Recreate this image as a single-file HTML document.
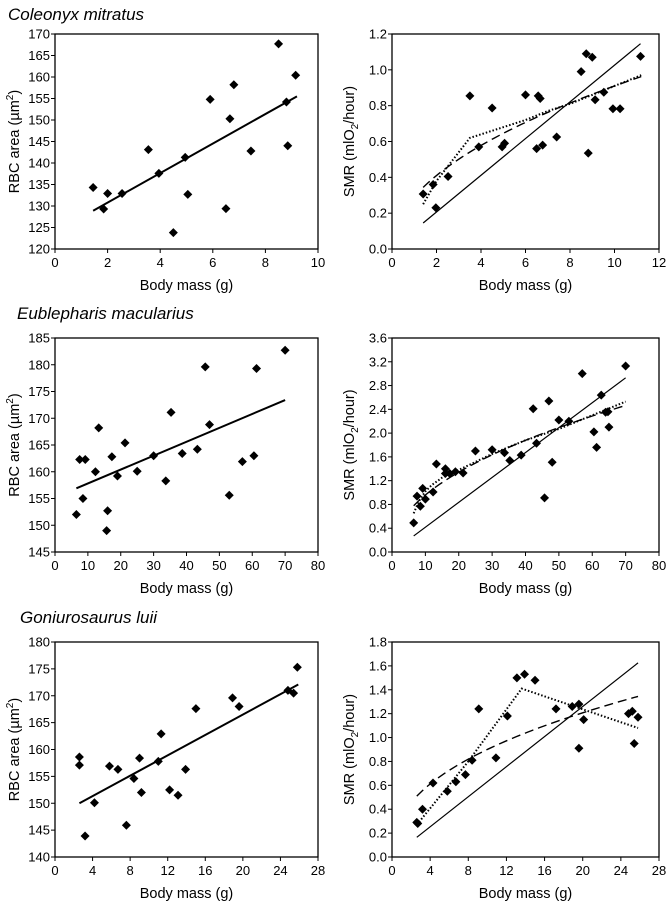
<!DOCTYPE html>
<html><head><meta charset="utf-8">
<style>
body{margin:0;background:#fff;}
svg{display:block;font-family:"Liberation Sans",Arial,sans-serif;}
</style></head>
<body>
<svg id="fig" width="668" height="905" viewBox="0 0 668 905">
<text x="8" y="20" font-size="17" font-style="italic">Coleonyx mitratus</text>
<text x="17" y="319" font-size="17" font-style="italic">Eublepharis macularius</text>
<text x="20" y="623" font-size="17" font-style="italic">Goniurosaurus luii</text>
</svg>
<script>
// ---- Panel 1: Coleonyx RBC ----
const p1X=[1.45,1.85,2.0,2.55,3.55,3.95,4.5,4.95,5.05,5.9,6.5,6.65,6.8,7.45,8.5,8.8,8.85,9.15];
const p1Y=[134.3,129.3,132.9,132.9,143.1,137.6,123.8,141.3,132.7,154.8,129.4,150.3,158.2,142.8,167.7,154.2,144.0,160.4];
const p1LineX=[1.45,9.2];
const p1LineY=[128.9,155.5];
const p1XTicks=[0,2,4,6,8,10];
const p1YTicks=[120,125,130,135,140,145,150,155,160,165,170];
// ---- Panel 2: Coleonyx SMR ----
const p2X=[1.4,1.85,1.97,2.52,3.5,3.9,4.5,4.95,5.06,6.0,6.5,6.57,6.66,6.77,7.4,8.5,8.73,9.0,8.82,9.13,9.52,9.93,10.25,11.17];
const p2Y=[0.307,0.36,0.23,0.405,0.855,0.57,0.787,0.57,0.59,0.86,0.56,0.855,0.84,0.58,0.625,0.99,1.09,1.07,0.535,0.833,0.875,0.783,0.783,1.075];
const p2LineX=[1.4,11.17];
const p2LineY=[0.145,1.146];
const p2Power=[0.291,0.495,1.4,11.2];
const p2DotX=[1.4,2,3.5,5,6,7,8,9,10,11.2];
const p2DotY=[0.25,0.38,0.62,0.68,0.72,0.77,0.81,0.86,0.91,0.97];
const p2XTicks=[0,2,4,6,8,10,12];
const p2YTicks=[0,0.2,0.4,0.6,0.8,1.0,1.2];
// ---- Panel 3: Eublepharis RBC ----
const p3X=[6.5,7.5,8.5,9.2,12.3,13.3,15.7,16,17.3,19,21.3,25,30,33.7,35.3,38.7,43.3,45.7,47,53,57,60.5,61.3,70];
const p3Y=[152,162.3,155,162.3,160,168.2,149,152.7,162.8,159.2,165.4,160.1,163,158.3,171.1,163.4,164.2,179.6,168.8,155.6,161.9,163,179.3,182.7];
const p3LineX=[6.5,70];
const p3LineY=[156.9,173.4];
const p3XTicks=[0,10,20,30,40,50,60,70,80];
const p3YTicks=[145,150,155,160,165,170,175,180,185];
// ---- Panel 4: Eublepharis SMR ----
const p4X=[6.5,7.5,8.5,9.2,10,12.3,13.3,16,16,17.3,19,21.3,25,30,33.7,35.3,38.7,42.3,43.3,45.7,47,48,50,53,57,60.5,61.3,62.7,64,64.7,65,70];
const p4Y=[0.49,0.94,0.77,1.07,0.89,1.01,1.48,1.4,1.32,1.32,1.35,1.33,1.7,1.72,1.67,1.54,1.63,2.41,1.83,0.91,2.54,1.51,2.22,2.2,3.0,2.02,1.76,2.64,2.35,2.36,2.1,3.13];
const p4LineX=[6.5,70];
const p4LineY=[0.27,2.93];
const p4Power=[0.314,0.485,6.5,70];
const p4DotX=[6.5,8,10,12,15,20,30,40,50,60,70];
const p4DotY=[0.65,0.85,1.02,1.13,1.25,1.38,1.65,1.88,2.07,2.3,2.53];
const p4XTicks=[0,10,20,30,40,50,60,70,80];
const p4YTicks=[0,0.4,0.8,1.2,1.6,2.0,2.4,2.8,3.2,3.6];
// ---- Panel 5: Goniurosaurus RBC ----
const p5X=[2.6,2.6,3.2,4.2,5.8,6.7,7.6,8.4,9.0,9.2,11,11.3,12.2,13.1,13.9,15,18.9,19.6,24.8,25.4,25.8];
const p5Y=[158.6,157.1,143.9,150.1,156.9,156.3,145.9,154.6,158.4,152,157.8,162.9,152.5,151.5,156.3,167.6,169.6,168,171,170.5,175.3];
const p5LineX=[2.6,25.9];
const p5LineY=[150,172.1];
const p5XTicks=[0,4,8,12,16,20,24,28];
const p5YTicks=[140,145,150,155,160,165,170,175,180];
// ---- Panel 6: Goniurosaurus SMR ----
const p6X=[2.6,2.7,3.2,4.3,5.8,6.7,7.7,8.4,9.1,10.9,12.1,13.1,13.9,15,17.2,18.9,19.6,19.6,20.1,24.8,25.2,25.4,25.8];
const p6Y=[0.29,0.28,0.40,0.62,0.55,0.63,0.69,0.81,1.24,0.83,1.18,1.50,1.53,1.48,1.24,1.26,1.28,0.91,1.15,1.20,1.22,0.95,1.17];
const p6LineX=[2.6,25.8];
const p6LineY=[0.165,1.625];
const p6Power=[0.34,0.423,2.6,25.8];
const p6DotX=[2.6,8,13.6,25.8];
const p6DotY=[0.27,0.8,1.41,1.08];
const p6XTicks=[0,4,8,12,16,20,24,28];
const p6YTicks=[0,0.2,0.4,0.6,0.8,1.0,1.2,1.4,1.6,1.8];

const NS='http://www.w3.org/2000/svg';
const fig=document.getElementById('fig');
function mk(tag,attrs,parent){const e=document.createElementNS(NS,tag);for(const k in attrs)e.setAttribute(k,attrs[k]);(parent||fig).appendChild(e);return e;}

function panel(id,box,xT,yT,dec,ylabelKind,X,Y,LX,LY,pw,DX,DY){
  const g=mk('g',{});
  
  
  const [L,T,R,B]=box;
  const x0=xT[0],x1=xT[xT.length-1],y0=yT[0],y1=yT[yT.length-1];
  const sx=v=>L+(v-x0)/(x1-x0)*(R-L);
  const sy=v=>B-(v-y0)/(y1-y0)*(B-T);
  const frame=mk('rect',{x:L,y:T,width:R-L,height:B-T,fill:'none',stroke:'#000','stroke-width':1.3},g);
  
  
  xT.forEach(v=>{
    mk('line',{x1:sx(v),x2:sx(v),y1:B,y2:B+4,stroke:'#000'},g);
    const t=mk('text',{x:sx(v),y:B+18,'font-size':13,'text-anchor':'middle'},g);
    t.textContent=v;
    
    
  });
  yT.forEach(v=>{
    mk('line',{x1:L-4,x2:L,y1:sy(v),y2:sy(v),stroke:'#000'},g);
    const t=mk('text',{x:L-5,y:sy(v)+4.5,'font-size':13,'text-anchor':'end'},g);
    t.textContent=v.toFixed(dec);
    
    
  });
  const xt=mk('text',{x:(L+R)/2,y:B+41,'font-size':14.5,'text-anchor':'middle'},g);
  xt.textContent='Body mass (g)';
  
  
  const cx=L<300?14:349, cy=(T+B)/2;
  const yt=mk('text',{x:cx,y:cy,'font-size':14.5,'text-anchor':'middle',transform:`rotate(-90 ${cx} ${cy})`,dy:5},g);
  if(ylabelKind==='rbc'){yt.innerHTML='RBC area (µm<tspan font-size="10" dy="-6">2</tspan><tspan dy="6">)</tspan>';}
  else{yt.innerHTML='SMR (mlO<tspan font-size="10" dy="4">2</tspan><tspan dy="-4">/hour)</tspan>';}
  
  
  // linear fit
  const ln=mk('line',{x1:sx(LX[0]),y1:sy(LY[0]),x2:sx(LX[1]),y2:sy(LY[1]),stroke:'#000','stroke-width':ylabelKind==='rbc'?2:1.2},g);
  
  
  if(pw){
    let pts=[];
    for(let i=0;i<=40;i++){const x=pw[2]+(pw[3]-pw[2])*i/40;pts.push(sx(x)+','+sy(pw[0]*Math.pow(x,pw[1])));}
    const pl=mk('polyline',{points:pts.join(' '),fill:'none',stroke:'#000','stroke-width':1.4,'stroke-dasharray':'9,5'},g);
    
    
  }
  if(DX){
    const pts=DX.map((x,i)=>sx(x)+','+sy(DY[i])).join(' ');
    const pl=mk('polyline',{points:pts,fill:'none',stroke:'#000','stroke-width':2,'stroke-dasharray':'1.5,2'},g);
    
    
  }
  X.forEach((x,i)=>{
    const px=sx(x),py=sy(Y[i]),r=4.5;
    const d=mk('polygon',{points:`${px},${py-r} ${px+r},${py} ${px},${py+r} ${px-r},${py}`,fill:'#000'},g);
    
    
  });
}
panel('panel-coleonyx-rbc',[55,34,318,249],p1XTicks,p1YTicks,0,'rbc',p1X,p1Y,p1LineX,p1LineY);
panel('panel-coleonyx-smr',[392,34,659,249],p2XTicks,p2YTicks,1,'smr',p2X,p2Y,p2LineX,p2LineY,p2Power,p2DotX,p2DotY);
panel('panel-eublepharis-rbc',[55,338,318,552],p3XTicks,p3YTicks,0,'rbc',p3X,p3Y,p3LineX,p3LineY);
panel('panel-eublepharis-smr',[392,338,659,552],p4XTicks,p4YTicks,1,'smr',p4X,p4Y,p4LineX,p4LineY,p4Power,p4DotX,p4DotY);
panel('panel-goniurosaurus-rbc',[55,642,318,857],p5XTicks,p5YTicks,0,'rbc',p5X,p5Y,p5LineX,p5LineY);
panel('panel-goniurosaurus-smr',[392,642,659,857],p6XTicks,p6YTicks,1,'smr',p6X,p6Y,p6LineX,p6LineY,p6Power,p6DotX,p6DotY);
</script>
</body></html>
